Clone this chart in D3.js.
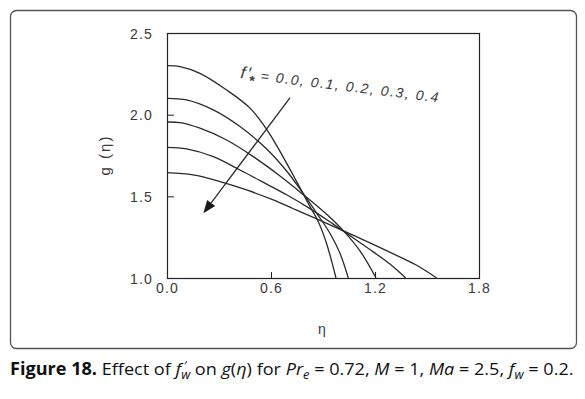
<!DOCTYPE html>
<html>
<head>
<meta charset="utf-8">
<script src="https://cdn.jsdelivr.net/npm/d3@7"></script>
<style>
  body { margin: 0; background: #fff; }
  svg { display: block; }
  .tick text { font-family: Arial, "Liberation Sans", sans-serif; font-size: 14px; fill: #3a3a3a; letter-spacing: 1.2px; }
</style>
</head>
<body>
<svg id="chart" width="585" height="399"></svg>
<script>
// values, one pair of arrays per f'w value
let fwValues = ["0.0", "0.1", "0.2", "0.3", "0.4"]

let eta00 = [0, 0.075, 0.19, 0.344, 0.479, 0.575, 0.633, 0.748, 0.825, 0.873, 0.921, 0.975]
let g00 = [2.30, 2.294, 2.253, 2.151, 2.04, 1.91, 1.81, 1.59, 1.437, 1.345, 1.21, 1.0]

let eta01 = [0, 0.113, 0.267, 0.421, 0.575, 0.69, 0.767, 0.864, 0.94, 0.998, 1.046]
let g01 = [2.10, 2.09, 2.029, 1.927, 1.79, 1.655, 1.545, 1.396, 1.274, 1.151, 1.0]

let eta02 = [0, 0.075, 0.19, 0.344, 0.498, 0.652, 0.787, 0.921, 1.017, 1.114, 1.206]
let g02 = [1.955, 1.951, 1.917, 1.845, 1.743, 1.625, 1.51, 1.39, 1.29, 1.165, 1.0]

let eta03 = [0, 0.113, 0.267, 0.421, 0.575, 0.69, 0.825, 0.959, 1.075, 1.19, 1.286, 1.377]
let g03 = [1.80, 1.79, 1.743, 1.661, 1.575, 1.51, 1.425, 1.33, 1.245, 1.16, 1.085, 1.0]

let eta04 = [0, 0.151, 0.306, 0.459, 0.613, 0.729, 0.854, 1.008, 1.114, 1.306, 1.44, 1.556]
let g04 = [1.645, 1.631, 1.59, 1.539, 1.478, 1.424, 1.366, 1.293, 1.243, 1.148, 1.078, 1.0]

let xTicks = [0.0, 0.6, 1.2, 1.8]
let yTicks = [1.0, 1.5, 2.0, 2.5]

// arrow from upper right to lower left (eta, g)
let arrowFrom = [0.71, 2.104]
let arrowTo = [0.21, 1.396]

let curves = [[eta00, g00], [eta01, g01], [eta02, g02], [eta03, g03], [eta04, g04]]

function draw() {
    let svg = d3.select("#chart");

    // outer rounded frame
    svg.append("rect")
        .attr("x", 10.5).attr("y", 10.5)
        .attr("width", 566).attr("height", 338)
        .attr("rx", 6).attr("ry", 6)
        .attr("fill", "none")
        .attr("stroke", "#555")
        .attr("stroke-width", 1.3);

    let left = 167, top = 33, right = 479, bottom = 278;

    let xScale = d3.scaleLinear().domain([0, 1.8]).range([left, right]);
    let yScale = d3.scaleLinear().domain([1.0, 2.5]).range([bottom, top]);

    let xAxis = d3.axisBottom(xScale)
        .tickValues(xTicks)
        .tickFormat(d3.format(".1f"))
        .tickSizeInner(-6)
        .tickSizeOuter(0)
        .tickPadding(5);

    let yAxis = d3.axisLeft(yScale)
        .tickValues(yTicks)
        .tickFormat(d3.format(".1f"))
        .tickSizeInner(-7)
        .tickSizeOuter(0)
        .tickPadding(14);

    let gx = svg.append("g")
        .attr("transform", "translate(0," + bottom + ")")
        .call(xAxis);
    gx.select(".domain").remove();
    gx.selectAll("line").attr("stroke", "#222");

    let gy = svg.append("g")
        .attr("transform", "translate(" + left + ",0)")
        .call(yAxis);
    gy.select(".domain").remove();
    gy.selectAll("line").attr("stroke", "#222");
    gy.selectAll("text").attr("dy", "0.36em");

    // plot box
    svg.append("rect")
        .attr("x", left + 0.5).attr("y", top + 0.5)
        .attr("width", right - left).attr("height", bottom - top)
        .attr("fill", "none")
        .attr("stroke", "#222")
        .attr("stroke-width", 1.2);

    let line = d3.line()
        .x(d => xScale(d[0]))
        .y(d => yScale(d[1]))
        .curve(d3.curveCatmullRom.alpha(0.5));

    curves.forEach(c => {
        let pts = c[0].map((e, i) => [e, c[1][i]]);
        svg.append("path")
            .datum(pts)
            .attr("fill", "none")
            .attr("stroke", "#2a2a2a")
            .attr("stroke-width", 1.3)
            .attr("d", line);
    });

    // arrow
    let x1 = xScale(arrowFrom[0]), y1 = yScale(arrowFrom[1]);
    let x2 = xScale(arrowTo[0]), y2 = yScale(arrowTo[1]);
    let ang = Math.atan2(y2 - y1, x2 - x1);
    let headLen = 13, headW = 5;
    let bx = x2 - headLen * Math.cos(ang), by = y2 - headLen * Math.sin(ang);
    svg.append("line")
        .attr("x1", x1).attr("y1", y1)
        .attr("x2", bx).attr("y2", by)
        .attr("stroke", "#2a2a2a")
        .attr("stroke-width", 1.3);
    svg.append("path")
        .attr("d", "M" + x2 + "," + y2 +
            "L" + (bx + headW * Math.sin(ang)) + "," + (by - headW * Math.cos(ang)) +
            "L" + (bx - headW * Math.sin(ang)) + "," + (by + headW * Math.cos(ang)) + "Z")
        .attr("fill", "#1a1a1a");

    // annotation
    let note = svg.append("text")
        .attr("transform", "translate(240,78) rotate(7)")
        .attr("font-family", "Arial, 'Liberation Sans', sans-serif")
        .attr("font-style", "italic")
        .attr("fill", "#3a3a3a");
    note.append("tspan").attr("font-size", 17).attr("letter-spacing", 2).text("f\u2032");
    note.append("tspan").attr("font-size", 14).attr("font-weight", "bold").attr("dy", 6).attr("dx", -3).text("*");
    note.append("tspan").attr("font-size", 14).attr("dy", -6).attr("dx", 6)
        .attr("letter-spacing", 1.6)
        .text("= " + fwValues.join(", "));

    // axis titles
    svg.append("text")
        .attr("transform", "translate(110,155) rotate(-90)")
        .attr("text-anchor", "middle")
        .attr("font-family", "Arial, 'Liberation Sans', sans-serif")
        .attr("font-size", 15)
        .attr("letter-spacing", 2)
        .attr("fill", "#3a3a3a")
        .text("g (\u03b7)");

    svg.append("text")
        .attr("x", 322).attr("y", 334)
        .attr("text-anchor", "middle")
        .attr("font-family", "Arial, 'Liberation Sans', sans-serif")
        .attr("font-size", 14)
        .attr("fill", "#3a3a3a")
        .text("\u03b7");

    // caption
    let cap = svg.append("text")
        .attr("font-family", "'Open Sans', 'Noto Sans', sans-serif")
        .attr("font-size", 17)
        .attr("fill", "#111");
    let parts = [
        ["Figure 18.", "b"], [" Effect of ", ""], ["f", "i"], ["w", "sub"], ["\u2032", "prime"],
        [" on ", "back"], ["g", "i"], ["(", ""], ["\u03b7", "i"], [") for ", ""],
        ["Pr", "i"], ["e", "sub"], [" = 0.72, ", "back"], ["M", "i"], [" = 1, ", ""],
        ["Ma", "i"], [" = 2.5, ", ""], ["f", "i"], ["w", "sub"], [" = 0.2.", "back"]
    ];
    let dyState = 0, dxBack = 0;
    parts.forEach(p => {
        let t = cap.append("tspan").text(p[0]);
        if (p[1] === "b") t.attr("font-weight", "bold");
        if (p[1] === "i") t.attr("font-style", "italic");
        if (p[1] === "sub") {
            t.attr("font-style", "italic").attr("font-size", 12).attr("dy", 4);
            dyState = 4;
        }
        if (p[1] === "prime") {
            t.attr("font-size", 12).attr("dx", -6).attr("dy", -9);
            dyState = -5;
            dxBack = 3;
        }
        if (p[1] === "back") {
            t.attr("dy", -dyState).attr("dx", dxBack);
            dyState = 0;
            dxBack = 0;
        }
    });
    let w = cap.node().getComputedTextLength();
    let sx = 567 / w;
    cap.attr("transform", "translate(10,375) scale(" + sx + ",1)");
}

draw();
</script>
</body>
</html>
